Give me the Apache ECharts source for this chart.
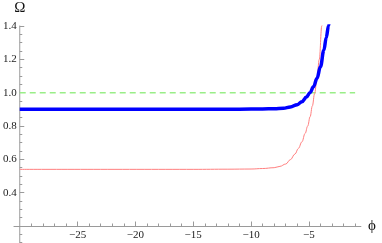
<!DOCTYPE html>
<html><head><meta charset="utf-8">
<script src="https://cdn.jsdelivr.net/npm/echarts@6/dist/echarts.min.js"></script>
<style>html,body{margin:0;padding:0;background:#fff}#c{width:382px;height:243px}</style>
</head><body><div id="c"></div>
<script>
// Data
const phiRed   = [-30, -15, -12, -10, -9, -8, -7.5, -7, -6.6, -6.2, -5.9, -5.6, -5.32, -5.1, -4.89, -4.7, -4.5, -4.31, -4.1, -3.88, -3.7];
const omegaRed = [0.54, 0.54, 0.541, 0.542, 0.545, 0.55, 0.558, 0.572, 0.598, 0.632, 0.666, 0.705, 0.756, 0.80, 0.856, 0.92, 0.995, 1.076, 1.20, 1.40, 1.58];
const phiBlue   = [-30, -14, -12, -10, -9, -8, -7.2, -6.6, -6.0, -5.6, -5.2, -4.9, -4.6, -4.3, -4.0, -3.7, -3.5, -3.3, -3.1];
const omegaBlue = [0.9, 0.9, 0.9005, 0.9015, 0.9025, 0.904, 0.907, 0.914, 0.928, 0.946, 0.974, 1.0, 1.035, 1.085, 1.155, 1.255, 1.33, 1.40, 1.5];
const phiRef   = [-30, -1];
const omegaRef = [1.0, 1.0];
const xMajorTicks = [-25, -20, -15, -10, -5];
const xMinorTicks = [-29,-28,-27,-26,-24,-23,-22,-21,-19,-18,-17,-16,-14,-13,-12,-11,-9,-8,-7,-6,-4,-3,-2,-1];
const yMajorTicks = [0.4, 0.6, 0.8, 1.0, 1.2, 1.4];
const yMinorTicks = [0.1, 0.15, 0.25, 0.3, 0.35, 0.45, 0.5, 0.55, 0.65, 0.7, 0.75, 0.85, 0.9, 0.95, 1.05, 1.1, 1.15, 1.25, 1.3, 1.35];

const zip = (a, b) => a.map((v, i) => [v, b[i]]);
const axisCol = '#9a9a9a';
const font = 'Liberation Serif';
const fmt = v => String(v).replace('-', '\u2212');

const chart = echarts.init(document.getElementById('c'), null, {renderer: 'canvas'});
const xBase = {type: 'value', min: -30.5, max: -0.5, position: 'bottom', offset: -16.7,
  splitLine: {show: false}};
const yBase = {type: 'value', min: 0.1, max: 1.4, position: 'left', offset: -5.8,
  splitLine: {show: false}};
chart.setOption({
  animation: false,
  grid: {left: 12.2, right: 21.1, top: 26, bottom: 0.3, containLabel: false},
  xAxis: [
    Object.assign({}, xBase, {
      name: '\u03D5', nameLocation: 'end', nameGap: 7,
      nameTextStyle: {fontFamily: font, fontSize: 15, color: '#111', verticalAlign: 'middle'},
      axisLine: {show: true, lineStyle: {color: axisCol, width: 1}},
      axisTick: {show: true, inside: true, length: 4.5, customValues: xMajorTicks, lineStyle: {color: axisCol}},
      axisLabel: {show: true, customValues: xMajorTicks, formatter: fmt, margin: 4,
        fontFamily: font, fontSize: 11, color: '#222'}
    }),
    Object.assign({}, xBase, {
      axisLine: {show: false},
      axisTick: {show: true, inside: true, length: 2.5, customValues: xMinorTicks, lineStyle: {color: axisCol}},
      axisLabel: {show: false}
    })
  ],
  yAxis: [
    Object.assign({}, yBase, {
      name: 'Ω', nameLocation: 'end', nameGap: 10,
      nameTextStyle: {fontFamily: font, fontSize: 15, color: '#111', align: 'center'},
      axisLine: {show: true, lineStyle: {color: axisCol, width: 1}},
      axisTick: {show: true, inside: true, length: 4.5, customValues: yMajorTicks, lineStyle: {color: axisCol}},
      axisLabel: {show: true, customValues: yMajorTicks, formatter: v => v.toFixed(1), margin: 3,
        fontFamily: font, fontSize: 11, color: '#222'}
    }),
    Object.assign({}, yBase, {
      axisLine: {show: false},
      axisTick: {show: true, inside: true, length: 2.5, customValues: yMinorTicks, lineStyle: {color: axisCol}},
      axisLabel: {show: false}
    })
  ],
  series: [
    {type: 'line', data: zip(phiRef, omegaRef), showSymbol: false, symbol: 'none',
     lineStyle: {color: '#99ee88', width: 1.5, type: [6, 4]}, z: 1},
    {type: 'line', data: zip(phiRed, omegaRed), showSymbol: false, symbol: 'none', smooth: 0.4, smoothMonotone: 'x',
     lineStyle: {color: '#ff7f7f', width: 1}, clip: true, z: 2},
    {type: 'line', data: zip(phiBlue, omegaBlue), showSymbol: false, symbol: 'none', smooth: 0.4, smoothMonotone: 'x',
     lineStyle: {color: '#0000ff', width: 3.5}, clip: true, z: 3}
  ]
});
</script></body></html>
